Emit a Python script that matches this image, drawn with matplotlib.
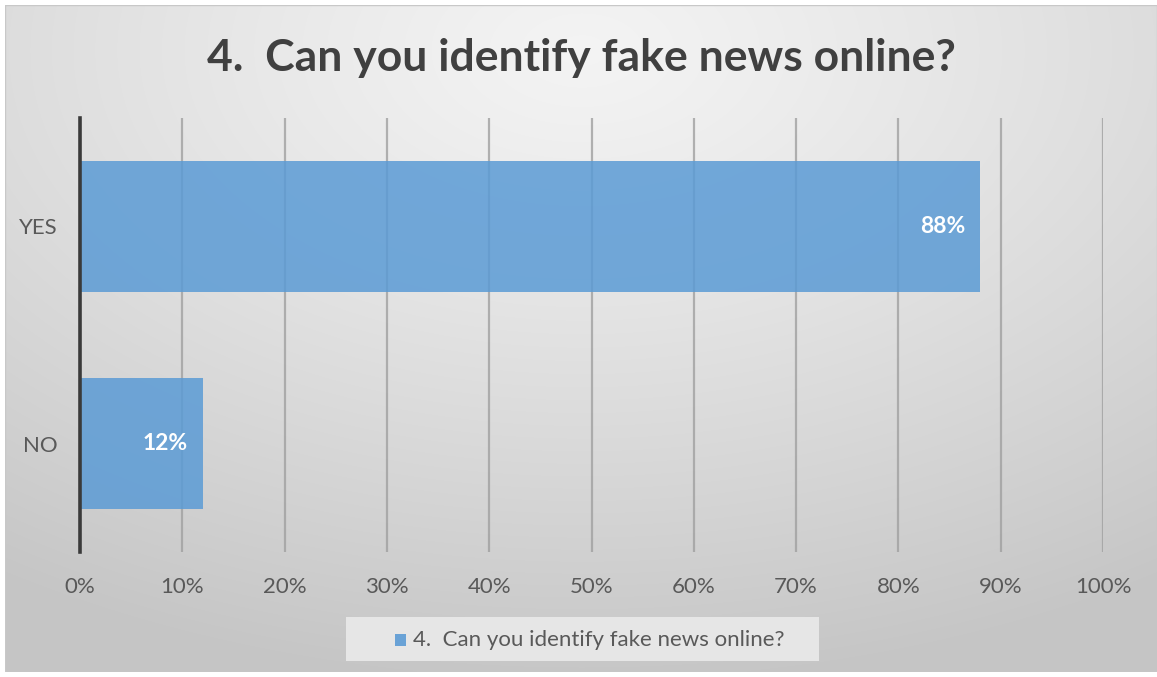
import numpy as np
import matplotlib.pyplot as plt
from matplotlib.patches import Rectangle

categories = ["NO", "YES"]
values = [12, 88]
value_labels = ["12%", "88%"]
x_ticks = [0, 10, 20, 30, 40, 50, 60, 70, 80, 90, 100]
x_tick_labels = [f"{t}%" for t in x_ticks]
title = "4.  Can you identify fake news online?"
series_name = "4.  Can you identify fake news online?"

plt.rcParams['font.family'] = ['Lato', 'DejaVu Sans']

W, H = 1157, 677
fig = plt.figure(figsize=(W / 100, H / 100), dpi=100)
fig.patch.set_facecolor("white")

# Radial gradient background panel
bg = fig.add_axes([5 / W, 5 / H, (W - 5) / W, (H - 10) / H])
bg.set_axis_off()
yy, xx = np.mgrid[0:300, 0:520]
cx, cy = 260, 20
r = np.sqrt(((xx - cx) / 520) ** 2 + ((yy - cy) / 300) ** 2 * 0.9)
r = np.clip(r / 0.9, 0, 1)
shade = 0.955 - 0.18 * r ** 1.2
img = np.dstack([shade, shade, shade])
bg.imshow(img, aspect="auto", extent=[0, 1, 0, 1], origin="upper", interpolation="bilinear")
bg.set_xlim(0, 1)
bg.set_ylim(0, 1)
bg.add_patch(Rectangle((0, 0), 1, 1, transform=bg.transAxes, fill=False,
                       edgecolor="#c8c8c8", linewidth=1.0))

ax = fig.add_axes([80 / W, (H - 552) / H, (1103 - 80) / W, (552 - 118) / H])
ax.set_facecolor("none")
ypos = np.arange(len(categories))
bars = ax.barh(ypos, values, height=0.6, color="#5b9bd5", alpha=0.85, zorder=3)
ax.set_xlim(0, 100)
ax.set_ylim(-0.5, 1.5)
ax.set_xticks(x_ticks)
ax.set_xticklabels(x_tick_labels)
ax.set_yticks(ypos)
ax.set_yticklabels(categories)
ax.tick_params(axis="both", length=0, labelsize=16, labelcolor="#595959")
ax.tick_params(axis="x", pad=18)
ax.tick_params(axis="y", pad=16)
ax.grid(axis="x", color="#a0a0a0", linewidth=1.6, alpha=0.8, zorder=1)
for s in ["top", "right", "bottom"]:
    ax.spines[s].set_visible(False)
ax.spines["left"].set_color("#3a3a3a")
ax.spines["left"].set_linewidth(2.6)
ax.spines["left"].set_zorder(4)

for b, lab in zip(bars, value_labels):
    ax.annotate(lab, (b.get_width(), b.get_y() + b.get_height() / 2),
                xytext=(-10.5, 0), textcoords="offset points", ha="right", va="center",
                color="white", fontsize=16.5, fontweight="bold", zorder=5)

fig.text(581 / W, 1 - 58 / H, title, ha="center", va="center",
         fontsize=32, fontweight="bold", color="#404040")

# Legend box
fig.patches.append(Rectangle((346 / W, 1 - 661 / H), (819 - 346) / W, (661 - 617) / H,
                             transform=fig.transFigure, facecolor="#e6e6e6",
                             edgecolor="none", zorder=2))
fig.patches.append(Rectangle((395 / W, 1 - 646 / H), 11 / W, 12 / H,
                             transform=fig.transFigure, facecolor="#5b9bd5",
                             edgecolor="none", zorder=3, alpha=0.9))
fig.text(413 / W, 1 - 640 / H, series_name, ha="left", va="center",
         fontsize=16, color="#595959", zorder=4)

fig.savefig("out.png", dpi=100)
